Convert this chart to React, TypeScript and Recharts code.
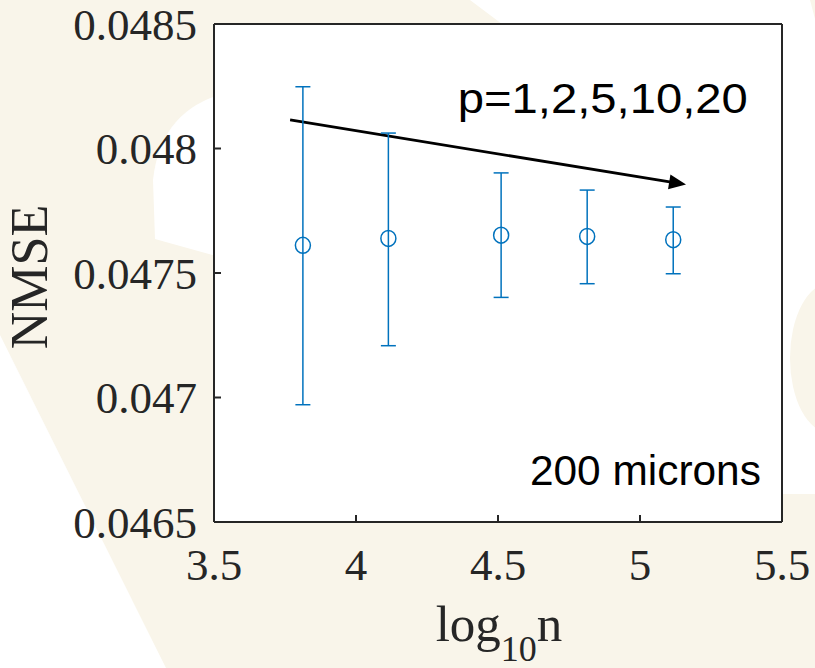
import React from 'react';
import {
  ScatterChart,
  Scatter,
  XAxis,
  YAxis,
  ErrorBar,
  ReferenceLine,
  ReferenceDot,
  CartesianGrid,
  Label,
} from 'recharts';

// ---- data ----
const log10n = [3.813, 4.114, 4.511, 4.814, 5.117];
const nmseMean = [0.047611, 0.047639, 0.047652, 0.047647, 0.047634];
const nmseUpper = [0.048248, 0.048062, 0.047902, 0.047833, 0.047765];
const nmseLower = [0.046971, 0.047208, 0.047402, 0.047457, 0.047497];
const xTicks = [3.5, 4, 4.5, 5, 5.5];
const yTicks = [0.0465, 0.047, 0.0475, 0.048, 0.0485];
const xDomain = [3.5, 5.5];
const yDomain = [0.0465, 0.0485];
const arrowStart = { x: 3.768, y: 0.048115 };
const arrowEnd = { x: 5.162, y: 0.047855 };
const pAnnotation = { x: 4.869, y: 0.048142, text: 'p=1,2,5,10,20' };
const sizeAnnotation = { x: 5.019, y: 0.04665, text: '200 microns' };

const data = log10n.map((x, i) => ({
  x,
  y: nmseMean[i],
  err: [nmseMean[i] - nmseLower[i], nmseUpper[i] - nmseMean[i]],
}));

const BLUE = '#0072BD';
const AXIS = '#262626';
const BEIGE = '#F9F5EA';
const SERIF = '"Liberation Serif", "Times New Roman", serif';
const SANS = '"Liberation Sans", Arial, sans-serif';

const Marker = (p: any) => (
  <ellipse cx={p.cx} cy={p.cy} rx={7.5} ry={8} fill="none" stroke={BLUE} strokeWidth={1.5} />
);

const Arrow = (p: any) => {
  const { x1, y1, x2, y2 } = p;
  const dx = x2 - x1;
  const dy = y2 - y1;
  const len = Math.hypot(dx, dy) || 1;
  const ux = dx / len;
  const uy = dy / len;
  const headLen = 17;
  const headW = 7.5;
  const bx = x2 - ux * headLen;
  const by = y2 - uy * headLen;
  return (
    <g>
      <line x1={x1} y1={y1} x2={bx + ux * 2} y2={by + uy * 2} stroke="#000" strokeWidth={2.8} />
      <polygon
        points={`${x2},${y2} ${bx - uy * headW},${by + ux * headW} ${bx + uy * headW},${by - ux * headW}`}
        fill="#000"
      />
    </g>
  );
};

const textShape = (text: string, len: number) => (p: any) => (
  <text
    x={p.cx}
    y={p.cy}
    textAnchor="middle"
    fontFamily={SANS}
    fontSize={43}
    fill="#000"
    textLength={len}
    lengthAdjust="spacingAndGlyphs"
  >
    {text}
  </text>
);

const XLabel = (props: any) => {
  const vb = props.viewBox || { x: 214, y: 522, width: 568 };
  const cx = vb.x + vb.width / 2 + 1;
  return (
    <text x={cx} y={vb.y + 119} textAnchor="middle" fontFamily={SERIF} fontSize={51} fill={AXIS}>
      log
      <tspan fontSize={36} dy={20}>10</tspan>
      <tspan fontSize={51} dy={-20}>n</tspan>
    </text>
  );
};

const YLabel = (props: any) => {
  const vb = props.viewBox || { x: 0, y: 24, height: 498 };
  const cy = vb.y + vb.height / 2 + 4;
  const bx = vb.x + 47;
  return (
    <text
      x={bx}
      y={cy}
      textAnchor="middle"
      fontFamily={SERIF}
      fontSize={52}
      fill={AXIS}
      transform={`rotate(-90, ${bx}, ${cy})`}
    >
      NMSE
    </text>
  );
};

const tickStyle = { fontFamily: SERIF, fontSize: 45, fill: AXIS };
const axisLineStyle = { stroke: AXIS, strokeWidth: 2 };

export default function App() {
  return (
    <div
      style={{
        position: 'absolute',
        left: 0,
        top: 0,
        width: 815,
        height: 668,
        background: BEIGE,
        overflow: 'hidden',
      }}
    >
      <svg width={815} height={668} style={{ position: 'absolute', left: 0, top: 0 }}>
        <polygon points="470,0 810,0 815,19 815,494 600,494 600,150 502,24" fill="#fff" />
        <ellipse cx={830} cy={358} rx={40} ry={75} fill={BEIGE} />
        <path d="M 216 96 Q 160 115 153 180 L 155 239 L 216 256 Z" fill="#fff" />
        <polygon points="0,335 0,668 166,668" fill="#fff" />
      </svg>
      <div style={{ position: 'absolute', left: 0, top: 0 }}>
        <ScatterChart width={815} height={668} margin={{ top: 23, right: 32, bottom: 0, left: 0 }}>
          <CartesianGrid fill="#fff" fillOpacity={1} stroke="none" horizontal={false} vertical={false} />
          <XAxis
            type="number"
            dataKey="x"
            domain={xDomain}
            ticks={xTicks}
            allowDataOverflow
            height={146}
            tickSize={-7}
            tickMargin={33}
            axisLine={axisLineStyle}
            tickLine={axisLineStyle}
            tick={tickStyle}
            interval={0}
          >
            <Label content={XLabel} />
          </XAxis>
          <XAxis
            xAxisId="top"
            orientation="top"
            type="number"
            domain={xDomain}
            ticks={xTicks}
            allowDataOverflow
            height={1}
            tickSize={-7}
            axisLine={axisLineStyle}
            tickLine={axisLineStyle}
            tick={false}
            interval={0}
          />
          <YAxis
            type="number"
            dataKey="y"
            domain={yDomain}
            ticks={yTicks}
            allowDataOverflow
            width={214}
            tickSize={-7}
            tickMargin={24}
            axisLine={axisLineStyle}
            tickLine={axisLineStyle}
            tick={tickStyle}
            interval={0}
          >
            <Label content={YLabel} />
          </YAxis>
          <YAxis
            yAxisId="right"
            orientation="right"
            type="number"
            domain={yDomain}
            ticks={yTicks}
            allowDataOverflow
            width={1}
            tickSize={-7}
            axisLine={axisLineStyle}
            tickLine={axisLineStyle}
            tick={false}
            interval={0}
          />
          <ReferenceLine
            segment={[arrowStart, arrowEnd]}
            ifOverflow="visible"
            shape={Arrow}
          />
          <ReferenceDot
            x={pAnnotation.x}
            y={pAnnotation.y}
            r={0}
            ifOverflow="visible"
            shape={textShape(pAnnotation.text, 290)}
          />
          <ReferenceDot
            x={sizeAnnotation.x}
            y={sizeAnnotation.y}
            r={0}
            ifOverflow="visible"
            shape={textShape(sizeAnnotation.text, 231)}
          />
          <Scatter data={data} shape={Marker} isAnimationActive={false}>
            <ErrorBar dataKey="err" direction="y" width={7.5} stroke={BLUE} strokeWidth={1.5} />
          </Scatter>
        </ScatterChart>
      </div>
    </div>
  );
}
